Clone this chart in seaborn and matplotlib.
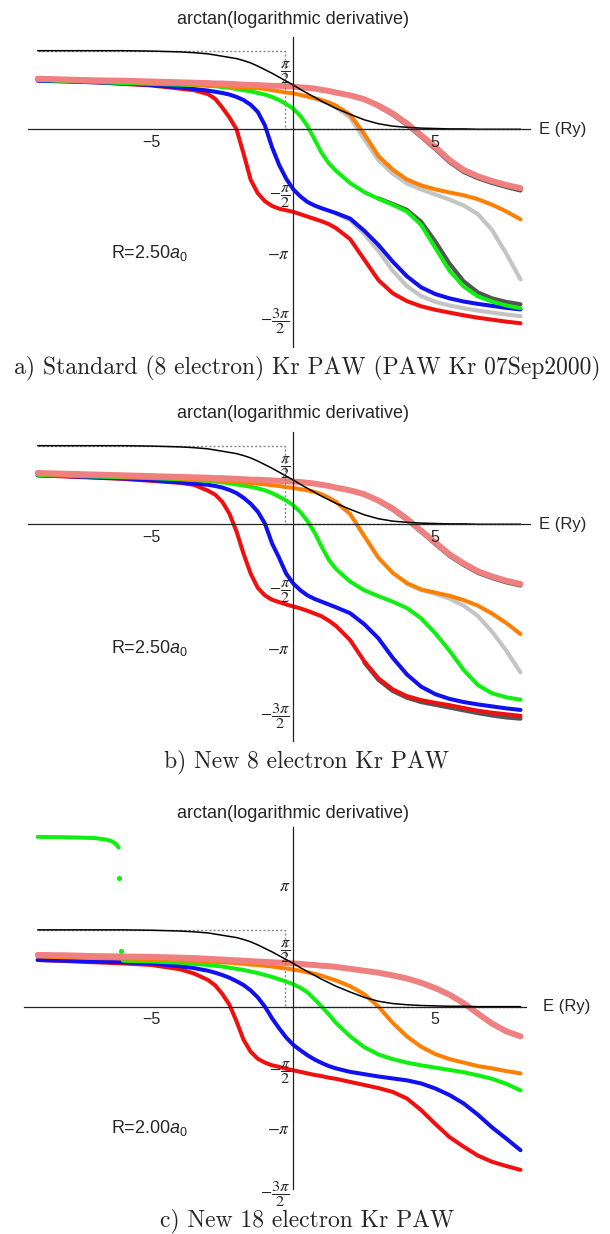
import numpy as np
import pandas as pd
import matplotlib
matplotlib.use('Agg')
import matplotlib.pyplot as plt
import seaborn as sns

sns.set_theme(style='white')
plt.rcParams['font.family'] = ['Liberation Sans', 'DejaVu Sans']
plt.rcParams['mathtext.fontset'] = 'custom'
plt.rcParams['mathtext.rm'] = 'Liberation Sans'
plt.rcParams['mathtext.it'] = 'Liberation Sans:italic'

# energy grid (Ry) shared by the full curves
E = [-9, -8, -7, -6, -5, -4, -3.5, -3, -2.75, -2.5, -2.25, -2, -1.75, -1.5, -1.25,
     -1, -0.75, -0.5, -0.25, 0, 0.25, 0.5, 0.75, 1, 1.25, 1.5, 2, 2.5, 3, 3.5, 4,
     4.5, 5, 5.5, 6, 6.5, 7, 7.5, 8]

# free reference curve + dotted guide
black = [1.99, 1.99, 1.99, 1.99, 1.98, 1.96, 1.94, 1.91, 1.88, 1.85, 1.82, 1.79, 1.74,
         1.68, 1.60, 1.51, 1.42, 1.32, 1.22, 1.12, 1.01, 0.91, 0.81, 0.71, 0.62, 0.53,
         0.38, 0.24, 0.14, 0.08, 0.05, 0.03, 0.02, 0.01, 0.01, 0.0, 0.0, 0.0, 0.0]
guide_E = [-9, -0.29, -0.29, 8]
guide_y = [1.99, 1.99, 0, 0]

# ---- panel a
a_red = [1.25, 1.22, 1.19, 1.15, 1.11, 1.03, 0.99, 0.89, 0.77, 0.55, 0.30, 0.00, -0.62,
         -1.28, -1.62, -1.82, -1.94, -2.01, -2.05, -2.09, -2.15, -2.21, -2.27, -2.33,
         -2.40, -2.50, -2.78, -3.30, -3.82, -4.15, -4.35, -4.48, -4.57, -4.64, -4.71,
         -4.77, -4.82, -4.87, -4.91]
a_blue = [1.23, 1.21, 1.19, 1.16, 1.12, 1.06, 1.02, 0.98, 0.95, 0.92, 0.88, 0.82, 0.74,
          0.62, 0.44, 0.10, -0.45, -0.90, -1.25, -1.52, -1.70, -1.84, -1.93, -2.00,
          -2.06, -2.12, -2.26, -2.57, -2.93, -3.35, -3.72, -4.00, -4.17, -4.28, -4.36,
          -4.42, -4.47, -4.52, -4.56]
a_green = [1.25, 1.22, 1.20, 1.17, 1.15, 1.13, 1.12, 1.10, 1.09, 1.07, 1.05, 1.02, 0.99,
           0.96, 0.92, 0.88, 0.82, 0.74, 0.64, 0.52, 0.34, 0.08, -0.26, -0.60, -0.86,
           -1.05, -1.36, -1.59, -1.76, -1.91, -2.08, -2.42, -3.00, -3.58, -3.98, -4.23,
           -4.36, -4.46, -4.53]
a_orange = [1.26, 1.24, 1.22, 1.20, 1.18, 1.15, 1.13, 1.12, 1.11, 1.10, 1.08, 1.07, 1.06,
            1.05, 1.04, 1.02, 0.99, 0.96, 0.93, 0.91, 0.87, 0.83, 0.79, 0.74, 0.68,
            0.60, 0.37, -0.12, -0.68, -1.02, -1.27, -1.42, -1.52, -1.60, -1.67, -1.77,
            -1.91, -2.08, -2.28]
a_pink = [1.28, 1.26, 1.24, 1.23, 1.21, 1.19, 1.18, 1.17, 1.16, 1.16, 1.15, 1.14, 1.13,
          1.12, 1.12, 1.11, 1.10, 1.10, 1.09, 1.08, 1.06, 1.05, 1.03, 1.00, 0.97, 0.93,
          0.86, 0.76, 0.60, 0.40, 0.15, -0.15, -0.45, -0.78, -1.03, -1.19, -1.31,
          -1.41, -1.49]
# all-electron references where they separate from the PAW curves
a_ref_orange_E = [0.5, 0.75, 1, 1.25, 1.5, 2, 2.5, 3, 3.5, 4, 4.5, 5, 5.5, 6, 6.5, 7, 7.5, 8]
a_ref_orange = [0.83, 0.78, 0.72, 0.65, 0.56, 0.30, -0.25, -0.78, -1.12, -1.37, -1.52,
                -1.65, -1.78, -1.93, -2.15, -2.55, -3.15, -3.80]
a_ref_blue_E = [1.5, 2, 2.5, 3, 3.5, 4, 4.5, 5, 5.5, 6, 6.5, 7, 7.5, 8]
a_ref_blue = [-2.13, -2.30, -2.65, -3.08, -3.58, -3.97, -4.22, -4.37, -4.46, -4.53,
              -4.59, -4.64, -4.69, -4.73]
a_ref_green_E = [3, 3.5, 4, 4.5, 5, 5.5, 6, 6.5, 7, 7.5, 8]
a_ref_green = [-1.75, -1.89, -2.04, -2.34, -2.84, -3.40, -3.85, -4.13, -4.28, -4.37, -4.43]
a_ref_pink_E = [3, 3.5, 4, 4.5, 5, 5.5, 6, 6.5, 7, 7.5, 8]
a_ref_pink = [0.58, 0.37, 0.11, -0.19, -0.50, -0.83, -1.08, -1.24, -1.36, -1.46, -1.55]

# ---- panel b
b_red = [1.24, 1.21, 1.18, 1.15, 1.10, 1.05, 1.00, 0.85, 0.75, 0.57, 0.27, -0.18, -0.75,
         -1.25, -1.61, -1.80, -1.91, -1.97, -2.03, -2.08, -2.13, -2.19, -2.26, -2.33,
         -2.44, -2.57, -2.93, -3.47, -3.90, -4.18, -4.35, -4.45, -4.52, -4.58, -4.65,
         -4.72, -4.77, -4.81, -4.85]
b_blue = [1.24, 1.22, 1.19, 1.16, 1.12, 1.06, 1.03, 1.00, 0.97, 0.93, 0.87, 0.79, 0.67,
          0.52, 0.32, 0.02, -0.48, -0.85, -1.25, -1.50, -1.67, -1.80, -1.89, -1.96,
          -2.03, -2.10, -2.25, -2.53, -2.89, -3.38, -3.80, -4.11, -4.30, -4.42, -4.50,
          -4.56, -4.61, -4.66, -4.70]
b_green = [1.25, 1.23, 1.21, 1.19, 1.17, 1.14, 1.12, 1.10, 1.08, 1.06, 1.04, 1.01, 0.98,
           0.95, 0.91, 0.86, 0.79, 0.70, 0.60, 0.48, 0.31, 0.08, -0.21, -0.57, -0.90,
           -1.13, -1.45, -1.67, -1.82, -1.96, -2.12, -2.38, -2.76, -3.20, -3.69, -4.07,
           -4.28, -4.38, -4.44]
b_orange = [1.27, 1.25, 1.23, 1.21, 1.19, 1.16, 1.14, 1.12, 1.11, 1.10, 1.09, 1.08, 1.06,
            1.04, 1.03, 1.01, 0.99, 0.97, 0.94, 0.92, 0.89, 0.86, 0.82, 0.76, 0.67,
            0.57, 0.26, -0.30, -0.85, -1.23, -1.49, -1.65, -1.73, -1.81, -1.92, -2.06,
            -2.26, -2.50, -2.78]
b_pink = [1.30, 1.28, 1.26, 1.24, 1.22, 1.20, 1.19, 1.18, 1.17, 1.17, 1.16, 1.15, 1.14,
          1.13, 1.13, 1.12, 1.11, 1.10, 1.09, 1.08, 1.07, 1.05, 1.03, 1.00, 0.97, 0.93,
          0.86, 0.76, 0.60, 0.40, 0.14, -0.16, -0.46, -0.76, -0.99, -1.19, -1.32,
          -1.43, -1.51]
b_ref_orange_E = [4, 4.5, 5, 5.5, 6, 6.5, 7, 7.5, 8]
b_ref_orange = [-1.50, -1.66, -1.76, -1.88, -2.06, -2.32, -2.72, -3.20, -3.75]
b_ref_red_E = [2.5, 3, 3.5, 4, 4.5, 5, 5.5, 6, 6.5, 7, 7.5, 8]
b_ref_red = [-3.50, -3.94, -4.22, -4.39, -4.50, -4.57, -4.64, -4.71, -4.78, -4.84,
             -4.89, -4.92]
b_ref_pink_E = [3, 3.5, 4, 4.5, 5, 5.5, 6, 6.5, 7, 7.5, 8]
b_ref_pink = [0.58, 0.37, 0.11, -0.19, -0.50, -0.80, -1.03, -1.23, -1.36, -1.47, -1.55]

# ---- panel c
c_red = [1.21, 1.18, 1.15, 1.12, 1.08, 0.97, 0.86, 0.69, 0.55, 0.33, 0.05, -0.38, -0.86,
         -1.17, -1.35, -1.45, -1.52, -1.56, -1.61, -1.65, -1.69, -1.73, -1.77, -1.80,
         -1.84, -1.87, -1.95, -2.03, -2.11, -2.21, -2.38, -2.68, -3.04, -3.38, -3.63,
         -3.86, -4.02, -4.13, -4.23]
c_blue = [1.21, 1.19, 1.17, 1.15, 1.12, 1.05, 1.00, 0.93, 0.88, 0.82, 0.75, 0.66, 0.56,
          0.42, 0.24, 0.00, -0.30, -0.56, -0.80, -0.99, -1.13, -1.26, -1.37, -1.46,
          -1.54, -1.60, -1.69, -1.75, -1.81, -1.86, -1.91, -1.99, -2.12, -2.29, -2.51,
          -2.80, -3.13, -3.42, -3.72]
c_green_E = E[3:]
c_green = [1.19, 1.17, 1.14, 1.11, 1.08, 1.06, 1.04, 1.01, 0.98, 0.95, 0.91, 0.87, 0.82,
           0.77, 0.71, 0.65, 0.58, 0.49, 0.37, 0.19, 0.00, -0.20, -0.42, -0.77, -1.05,
           -1.24, -1.36, -1.45, -1.52, -1.58, -1.64, -1.70, -1.78, -1.87, -2.00, -2.17]
c_green_top_E = [-9, -8, -7, -6.6, -6.4, -6.25, -6.15]
c_green_top = [4.40, 4.39, 4.37, 4.33, 4.29, 4.22, 4.12]
c_green_dots_E = [-6.12, -6.08]
c_green_dots = [3.33, 1.44]
c_orange = [1.30, 1.28, 1.26, 1.25, 1.23, 1.20, 1.19, 1.17, 1.16, 1.15, 1.14, 1.12, 1.11,
            1.09, 1.08, 1.06, 1.04, 1.01, 0.99, 0.96, 0.93, 0.89, 0.85, 0.80, 0.74,
            0.68, 0.53, 0.32, 0.00, -0.42, -0.77, -1.04, -1.23, -1.36, -1.45, -1.54,
            -1.60, -1.67, -1.73]
c_pink = [1.34, 1.33, 1.31, 1.30, 1.29, 1.27, 1.26, 1.24, 1.23, 1.22, 1.21, 1.20, 1.19,
          1.18, 1.17, 1.16, 1.15, 1.14, 1.13, 1.12, 1.11, 1.09, 1.08, 1.06, 1.05, 1.03,
          0.98, 0.93, 0.88, 0.81, 0.73, 0.62, 0.48, 0.31, 0.09, -0.18, -0.44, -0.64,
          -0.77]

pi = np.pi
ab_ticks = [pi/2, -pi/2, -pi, -3*pi/2]
ab_labels = [r'$\dfrac{\pi}{2}$', r'$-\dfrac{\pi}{2}$', r'$-\pi$', r'$-\dfrac{3\pi}{2}$']
c_ticks = [pi, pi/2, -pi/2, -pi, -3*pi/2]
c_labels = [r'$\pi$', r'$\dfrac{\pi}{2}$', r'$-\dfrac{\pi}{2}$', r'$-\pi$',
            r'$-\dfrac{3\pi}{2}$']

RED, BLUE, GREEN = '#f01010', '#1010f0', '#10f010'
ORANGE, PINK = '#ff8000', '#f08080'
LGRAY, DGRAY = '#c4c4c4', '#555555'

W, H = 610, 1234
fig = plt.figure(figsize=(W / 100, H / 100), dpi=100)


def panel_rect(xlim, ylim, y0, ys, x0=293.3, xs=28.4):
    left = x0 + xlim[0] * xs
    top = y0 - ylim[1] * ys
    w = (xlim[1] - xlim[0]) * xs
    h = (ylim[1] - ylim[0]) * ys
    return [left / W, 1 - (top + h) / H, w / W, h / H]


def curve(ax, x, y, color, lw, z):
    sns.lineplot(x=x, y=y, ax=ax, color=color, linewidth=lw, sort=False,
                 estimator=None, zorder=z, solid_capstyle='round', legend=False)


def style(ax, xlim, ylim, ticks, labels, rtext, elab_x):
    ax.set_xlim(xlim)
    ax.set_ylim(ylim)
    ax.patch.set_alpha(0)
    ax.set_axisbelow(False)
    for s in ['top', 'right']:
        ax.spines[s].set_visible(False)
    for s in ['left', 'bottom']:
        ax.spines[s].set_position(('data', 0))
        ax.spines[s].set_color('#222222')
        ax.spines[s].set_linewidth(0.9)
        ax.spines[s].set_zorder(2.5)
    ax.set_xticks([-5, 5])
    ax.set_xticklabels(['\u22125', '5'], fontsize=11.5)
    ax.set_xticks([i for i in range(-9, 9) if i not in (-5, 0, 5)], minor=True)
    ax.set_yticks(ticks)
    ax.set_yticklabels(labels, fontsize=12.5)
    for t in ax.get_yticklabels():
        t.set_math_fontfamily('stix')
        if 'frac' in t.get_text():
            t.set_fontsize(11.8)
    ax.tick_params(axis='x', which='major', direction='in', length=4, width=0.8,
                   color='#222222', pad=4)
    ax.tick_params(axis='x', which='minor', direction='in', length=2, width=0.7,
                   color='#222222')
    ax.tick_params(axis='y', direction='in', length=4, width=0.8, color='#222222', pad=2)
    ax.set_xlabel('')
    ax.set_ylabel('')
    ax.grid(False)
    ax.text(elab_x, 0, 'E (Ry)', fontsize=12, va='center', ha='left', clip_on=False)
    ax.text(-6.42, -pi, rtext, fontsize=13, va='center', ha='left')


def draw_common(ax):
    curve(ax, guide_E, guide_y, '#888888', 1.0, 1.8)
    ax.lines[-1].set_linestyle((0, (1.5, 1.5)))
    curve(ax, E, black, 'black', 1.1, 2.0)


# panel a
ax_a = fig.add_axes(panel_rect((-9.35, 8.35), (-5.5, 2.33), 129.3, 39.5))
curve(ax_a, a_ref_orange_E, a_ref_orange, LGRAY, 3.0, 1.0)
curve(ax_a, a_ref_blue_E, a_ref_blue, LGRAY, 3.0, 1.0)
curve(ax_a, a_ref_green_E, a_ref_green, DGRAY, 3.0, 1.0)
curve(ax_a, a_ref_pink_E, a_ref_pink, DGRAY, 3.0, 1.0)
curve(ax_a, E, a_red, RED, 2.9, 1.5)
curve(ax_a, E, a_blue, BLUE, 2.9, 1.5)
curve(ax_a, E, a_green, GREEN, 2.9, 1.5)
curve(ax_a, E, a_orange, ORANGE, 2.9, 1.5)
curve(ax_a, E, a_pink, PINK, 4.3, 1.5)
draw_common(ax_a)
style(ax_a, (-9.35, 8.35), (-5.5, 2.33), ab_ticks, ab_labels, r'R=2.50$\mathit{a_0}$', 8.65)

# panel b
ax_b = fig.add_axes(panel_rect((-9.35, 8.35), (-5.48, 2.34), 524.3, 39.5))
curve(ax_b, b_ref_orange_E, b_ref_orange, LGRAY, 3.0, 1.0)
curve(ax_b, b_ref_red_E, b_ref_red, DGRAY, 3.0, 1.0)
curve(ax_b, b_ref_pink_E, b_ref_pink, DGRAY, 3.0, 1.0)
curve(ax_b, E, b_red, RED, 2.9, 1.5)
curve(ax_b, E, b_blue, BLUE, 2.9, 1.5)
curve(ax_b, E, b_green, GREEN, 2.9, 1.5)
curve(ax_b, E, b_orange, ORANGE, 2.9, 1.5)
curve(ax_b, E, b_pink, PINK, 4.3, 1.5)
draw_common(ax_b)
style(ax_b, (-9.35, 8.35), (-5.48, 2.34), ab_ticks, ab_labels, r'R=2.50$\mathit{a_0}$', 8.65)

# panel c
ax_c = fig.add_axes(panel_rect((-9.5, 8.2), (-4.71, 4.66), 1006.7, 38.6))
curve(ax_c, E, c_red, RED, 2.9, 1.5)
curve(ax_c, E, c_blue, BLUE, 2.9, 1.5)
curve(ax_c, c_green_E, c_green, GREEN, 2.9, 1.5)
curve(ax_c, c_green_top_E, c_green_top, GREEN, 2.9, 1.5)
sns.scatterplot(x=c_green_dots_E, y=c_green_dots, ax=ax_c, color=GREEN, s=14,
                linewidth=0, zorder=1.5, legend=False)
curve(ax_c, E, c_orange, ORANGE, 2.9, 1.5)
curve(ax_c, E, c_pink, PINK, 4.3, 1.5)
draw_common(ax_c)
style(ax_c, (-9.5, 8.2), (-4.71, 4.66), c_ticks, c_labels, r'R=2.00$\mathit{a_0}$', 8.79)

# titles and captions
for ytitle in [20, 414, 814]:
    fig.text(293.3 / W, 1 - ytitle / H, 'arctan(logarithmic derivative)', fontsize=13,
             ha='center', va='center')
captions = ['a) Standard (8 electron) Kr PAW (PAW Kr 07Sep2000)',
            'b) New 8 electron Kr PAW',
            'c) New 18 electron Kr PAW']
for cap, ycap in zip(captions, [368, 762, 1221]):
    fig.text(307 / W, 1 - ycap / H, cap, fontsize=17, family='cmr10',
             ha='center', va='center')

fig.savefig('out.png', dpi=100)
